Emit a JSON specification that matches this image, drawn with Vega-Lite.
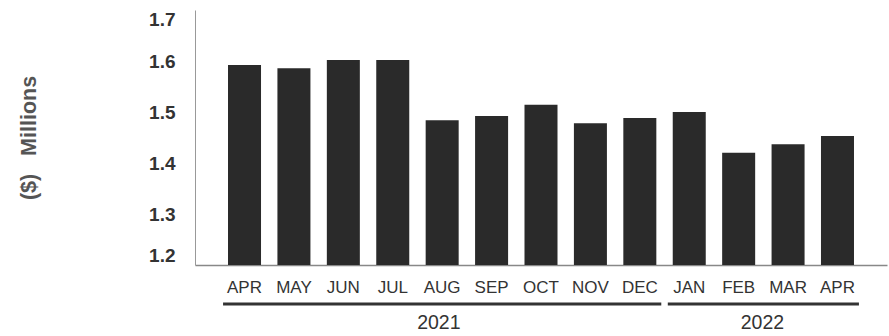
{
  "$schema": "https://vega.github.io/schema/vega-lite/v6.json",
  "width": 692,
  "height": 255,
  "autosize": {"type": "none"},
  "padding": {"left": 195, "top": 10, "right": 2, "bottom": 71},
  "background": "white",
  "config": {
    "view": {"stroke": null},
    "font": "Liberation Sans",
    "axisX": {
      "labelExpr": "split(datum.label, '|')[0]",
      "labelAngle": 0,
      "ticks": false,
      "grid": false,
      "labelPadding": 14,
      "labelFont": "Liberation Sans",
      "labelFontSize": 17,
      "labelColor": "#333333",
      "domainColor": "#888888",
      "domainWidth": 1.5
    },
    "axisY": {
      "values": [1.2, 1.3, 1.4, 1.5, 1.6, 1.7],
      "format": ".1f",
      "labelFlush": true,
      "ticks": false,
      "grid": false,
      "labelPadding": 20,
      "labelFontSize": 19,
      "labelFontWeight": "bold",
      "labelColor": "#333333",
      "domainColor": "#999999",
      "domainWidth": 1,
      "titleFontSize": 21.5,
      "titleFontWeight": "bold",
      "titleColor": "#555555",
      "titleAngle": -90,
      "titleX": -166,
      "titleY": 127.5,
      "titleAlign": "center",
      "titleBaseline": "middle"
    }
  },
  "datasets": {
    "monthly": [
      {"key": "APR|2021", "value": 1.592},
      {"key": "MAY|2021", "value": 1.586},
      {"key": "JUN|2021", "value": 1.602},
      {"key": "JUL|2021", "value": 1.602},
      {"key": "AUG|2021", "value": 1.484},
      {"key": "SEP|2021", "value": 1.492},
      {"key": "OCT|2021", "value": 1.514},
      {"key": "NOV|2021", "value": 1.478},
      {"key": "DEC|2021", "value": 1.488},
      {"key": "JAN|2022", "value": 1.5},
      {"key": "FEB|2022", "value": 1.42},
      {"key": "MAR|2022", "value": 1.437},
      {"key": "APR|2022", "value": 1.453}
    ],
    "years": [
      {"year": "2021", "start": "APR|2021", "end": "DEC|2021", "mid": "AUG|2021"},
      {"year": "2022", "start": "JAN|2022", "end": "APR|2022", "mid": "FEB|2022"}
    ]
  },
  "layer": [
    {
      "data": {"name": "monthly"},
      "mark": {"type": "bar", "color": "#2a2a2a"},
      "encoding": {
        "x": {
          "field": "key",
          "type": "nominal",
          "title": null,
          "scale": {
            "domain": ["APR|2021", "MAY|2021", "JUN|2021", "JUL|2021", "AUG|2021", "SEP|2021", "OCT|2021", "NOV|2021", "DEC|2021", "JAN|2022", "FEB|2022", "MAR|2022", "APR|2022"],
            "paddingInner": 0.332,
            "paddingOuter": 0.668
          }
        },
        "y": {
          "field": "value",
          "type": "quantitative",
          "title": "($)\u00a0\u00a0\u00a0Millions",
          "scale": {"domain": [1.2, 1.7], "nice": false, "zero": false}
        },
        "y2": {"datum": 1.2}
      }
    },
    {
      "data": {"name": "years"},
      "mark": {"type": "rule", "strokeWidth": 3, "color": "#333333"},
      "encoding": {
        "x": {"field": "start", "type": "nominal", "bandPosition": -0.15, "title": null},
        "x2": {"field": "end", "bandPosition": 1.15},
        "y": {"datum": 1.1235, "title": null}
      }
    },
    {
      "data": {"name": "years"},
      "transform": [{"filter": "datum.year == '2021'"}],
      "mark": {"type": "text", "font": "Liberation Sans", "fontSize": 19.5, "color": "#333333", "baseline": "middle", "align": "center"},
      "encoding": {
        "x": {"field": "mid", "type": "nominal", "bandPosition": 0.4, "title": null},
        "y": {"datum": 1.0863, "title": null},
        "text": {"field": "year"}
      }
    },
    {
      "data": {"name": "years"},
      "transform": [{"filter": "datum.year == '2022'"}],
      "mark": {"type": "text", "font": "Liberation Sans", "fontSize": 19.5, "color": "#333333", "baseline": "middle", "align": "center"},
      "encoding": {
        "x": {"field": "mid", "type": "nominal", "bandPosition": 1.22, "title": null},
        "y": {"datum": 1.0863, "title": null},
        "text": {"field": "year"}
      }
    }
  ]
}
